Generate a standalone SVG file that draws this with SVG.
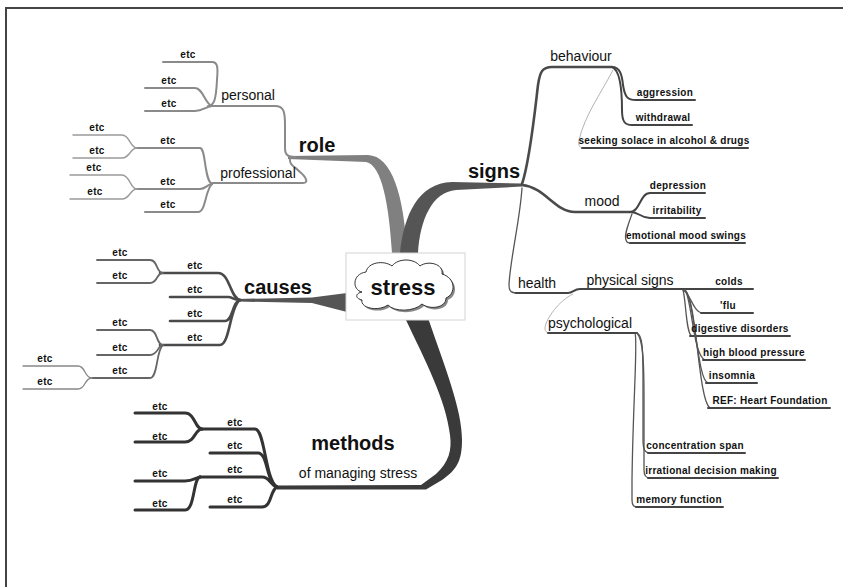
<svg xmlns="http://www.w3.org/2000/svg" width="843" height="587" viewBox="0 0 843 587">
<style>
text{font-family:"Liberation Sans",Arial,sans-serif;fill:#111;text-anchor:middle}
.s{font-size:10px;font-weight:bold;letter-spacing:0.3px}
.m{font-size:14px}
.b{font-size:20px;font-weight:bold}
.r{fill:none;stroke:#8a8a8a;stroke-width:2;stroke-linecap:round}
.rt{fill:none;stroke:#9a9a9a;stroke-width:1.4;stroke-linecap:round}
.d{fill:none;stroke:#4a4a4a;stroke-width:2.6;stroke-linecap:round}
.dt{fill:none;stroke:#666;stroke-width:1.8;stroke-linecap:round}
.dtt{fill:none;stroke:#888;stroke-width:1.3;stroke-linecap:round}
.k{fill:none;stroke:#333;stroke-width:3;stroke-linecap:round}
.g{fill:none;stroke:#444;stroke-width:2;stroke-linecap:round}
.th{fill:none;stroke:#555;stroke-width:1.3;stroke-linecap:round}
.lt{fill:none;stroke:#aaa;stroke-width:0.9}
</style>
<rect width="843" height="587" fill="#fff"/>
<path d="M6 587 L6 8 L843 8" fill="none" stroke="#444" stroke-width="2"/>

<g id="connectors">
  <!-- main branches -->
  <path id="br-role" d="M288 156 L368 155 C392 156 404 195 407 253 L392 253 C389 205 382 165 366 162 L288 159 Z" fill="#808080"/>
  <path id="br-signs" d="M400 253 C404 215 418 183 452 182 L522 183.5 L522 186.5 L456 190 C432 192 420 220 418 253 Z" fill="#555"/>
  <path id="br-causes" d="M237 299 L312 297.5 L347 293 L347 312 L312 303 L237 301.5 Z" fill="#555"/>
  <path id="br-methods" d="M405 318 L428 318 C446 370 462 410 462 440 C462 462 456 470 442 480 L426 489.5 L277 489.5 L277 485.5 L421 485 L436 474 C449 462 452 450 450 435 C446 400 425 360 405 318 Z" fill="#3a3a3a"/>

  <!-- role subtree -->
  <path class="r" d="M212 106 L275 106 C284 106 285 112 285 125 L285 148 C285 155 288 157 295 157"/>
  <path class="r" d="M212 183 L303 183 C309 183 306 177 300 172 C294 166 289 165 290 158"/>
  <path class="r" d="M163 62 L212 62 C218 62 218 68 217 80 C216 100 214 106 208 106"/>
  <path class="r" d="M145 88 L195 88 C203 88 205 104 212 106"/>
  <path class="r" d="M145 111 L195 111 C203 111 205 107 212 106"/>
  <path class="r" d="M135 148 L200 148 C206 148 204 180 212 184"/>
  <path class="rt" d="M73 135 L122 135 C130 135 130 148 137 148"/>
  <path class="rt" d="M73 158 L122 158 C130 158 130 148 137 148"/>
  <path class="r" d="M135 189 L200 189 C206 189 206 185 212 184"/>
  <path class="rt" d="M70 175 L122 175 C130 175 130 189 137 189"/>
  <path class="rt" d="M70 199 L122 199 C130 199 130 189 137 189"/>
  <path class="r" d="M145 212 L198 212 C206 212 205 190 212 184"/>

  <!-- causes subtree -->
  <path class="d" d="M160 273 L218 273 C230 273 230 298 240 300"/>
  <path class="dt" d="M97 260 L150 260 C158 260 156 273 163 273"/>
  <path class="dt" d="M97 283 L150 283 C158 283 156 273 163 273"/>
  <path class="d" d="M170 297 L228 297 C233 297 233 300 240 300"/>
  <path class="d" d="M170 321 L225 321 C233 321 232 302 240 300"/>
  <path class="d" d="M160 345 L220 345 C230 345 230 305 240 300"/>
  <path class="dt" d="M97 330 L150 330 C158 330 156 345 163 345"/>
  <path class="dt" d="M97 355 L150 355 C158 355 158 345 163 345"/>
  <path class="dt" d="M90 378 L150 378 C158 378 156 350 163 345"/>
  <path class="dtt" d="M23 366 L78 366 C86 366 84 378 92 378"/>
  <path class="dtt" d="M23 389 L78 389 C86 389 84 378 92 378"/>

  <!-- methods subtree -->
  <path class="k" d="M200 429 L255 429 C265 429 265 480 277 487"/>
  <path class="k" d="M135 413 L185 413 C195 413 195 429 202 429"/>
  <path class="k" d="M135 442 L185 442 C195 442 195 429 202 429"/>
  <path class="k" d="M210 453 L258 453 C268 453 266 482 277 487"/>
  <path class="k" d="M200 477 L262 477 C270 477 270 485 277 487"/>
  <path class="k" d="M135 481 L185 481 C193 481 195 478 200 477"/>
  <path class="k" d="M135 510 L185 510 C195 510 193 478 200 477"/>
  <path class="k" d="M210 507 L262 507 C272 507 270 490 277 487"/>

  <!-- signs subtree -->
  <path class="d" d="M522 184 C530 160 535 110 538 85 C540 72 542 67 552 67 L612 67"/>
  <path class="g" d="M612 67 C620 67 622 75 623 85 C625 98 628 100 636 100 L695 100"/>
  <path class="g" d="M612 67 C620 70 622 90 622 110 C622 122 625 125 632 125 L692 125"/>
  <path class="lt" d="M613 70 C600 95 585 115 579 140 C578 146 580 148 584 148"/>
  <path class="g" d="M582 148 L748 148"/>
  <path class="d" d="M522 185 C545 187 555 212 575 212 L630 212"/>
  <path class="g" d="M630 212 C640 212 640 193 650 193 L705 193"/>
  <path class="g" d="M630 212 C640 212 640 218 650 218 L705 218"/>
  <path class="th" d="M632 214 C628 225 624 235 626 240 C627 243 628 243 632 243"/>
  <path class="g" d="M630 243 L745 243"/>
  <path class="th" d="M522 188 C520 220 510 260 509 285 C509 292 512 293 518 293"/>
  <path class="g" d="M516 293 L568 293 C573 293 574 289 580 289 L753 289"/>
  <path class="th" d="M683 290 C690 292 693 313 703 313"/>
  <path class="g" d="M701 313 L753 313"/>
  <path class="th" d="M683 290 C686 300 686 335 692 336"/>
  <path class="g" d="M690 336 L790 336"/>
  <path class="th" d="M685 290 C692 300 693 355 705 360"/>
  <path class="g" d="M703 360 L805 360"/>
  <path class="th" d="M685 290 C695 300 697 380 708 383"/>
  <path class="g" d="M706 383 L757 383"/>
  <path class="th" d="M685 290 C697 300 698 400 710 408"/>
  <path class="g" d="M708 408 L830 408"/>
  <path class="lt" d="M573 294 C560 300 546 318 545 328 C545 332 547 333 552 333"/>
  <path class="g" d="M548 333 L637 333"/>
  <path class="th" d="M637 333 C642 335 643 345 643 380 L643 440 C643 450 645 453 650 453"/>
  <path class="g" d="M648 453 L745 453"/>
  <path class="th" d="M637 333 C643 340 644 360 644 400 L644 470 C644 476 646 478 650 478"/>
  <path class="g" d="M648 478 L778 478"/>
  <path class="th" d="M635 333 C638 340 633 400 632 480 L632 500 C632 506 634 507 638 507"/>
  <path class="g" d="M636 507 L723 507"/>
</g>

<g id="stress">
  <rect x="346" y="253" width="119" height="67" fill="#fff" stroke="#d4d4d4" stroke-width="1"/>
  <path transform="translate(2,2)" d="M362 292 C352 290 352 274 366 272 C368 262 384 260 392 266 C398 258 414 258 420 266 C428 260 444 264 442 274 C456 278 456 294 446 298 C446 308 430 310 422 304 C414 312 394 312 388 305 C378 312 360 308 362 300 C354 298 356 293 362 292 Z" fill="#888"/>
  <path d="M362 292 C352 290 352 274 366 272 C368 262 384 260 392 266 C398 258 414 258 420 266 C428 260 444 264 442 274 C456 278 456 294 446 298 C446 308 430 310 422 304 C414 312 394 312 388 305 C378 312 360 308 362 300 C354 298 356 293 362 292 Z" fill="#fff" stroke="#333" stroke-width="1"/>
  <text class="b" x="403" y="295" style="font-size:22px">stress</text>
</g>

<g id="role"><text class="b" x="317" y="152">role</text></g>
<g id="personal"><text class="m" x="248" y="100">personal</text></g>
<g id="professional"><text class="m" x="258" y="178">professional</text></g>
<g id="role-etc">
  <text class="s" x="188" y="58">etc</text>
  <text class="s" x="169" y="84">etc</text>
  <text class="s" x="169" y="107">etc</text>
  <text class="s" x="168" y="144">etc</text>
  <text class="s" x="97" y="131">etc</text>
  <text class="s" x="97" y="154">etc</text>
  <text class="s" x="168" y="185">etc</text>
  <text class="s" x="94" y="171">etc</text>
  <text class="s" x="95" y="195">etc</text>
  <text class="s" x="168" y="208">etc</text>
</g>

<g id="causes"><text class="b" x="278" y="294">causes</text></g>
<g id="causes-etc">
  <text class="s" x="195" y="269">etc</text>
  <text class="s" x="120" y="256">etc</text>
  <text class="s" x="120" y="279">etc</text>
  <text class="s" x="195" y="293">etc</text>
  <text class="s" x="195" y="317">etc</text>
  <text class="s" x="195" y="341">etc</text>
  <text class="s" x="120" y="326">etc</text>
  <text class="s" x="120" y="351">etc</text>
  <text class="s" x="120" y="374">etc</text>
  <text class="s" x="45" y="362">etc</text>
  <text class="s" x="45" y="385">etc</text>
</g>

<g id="methods">
  <text class="b" x="353" y="450">methods</text>
  <text class="m" x="358" y="478">of managing stress</text>
</g>
<g id="methods-etc">
  <text class="s" x="160" y="410">etc</text>
  <text class="s" x="160" y="440">etc</text>
  <text class="s" x="235" y="426">etc</text>
  <text class="s" x="235" y="449">etc</text>
  <text class="s" x="235" y="473">etc</text>
  <text class="s" x="160" y="477">etc</text>
  <text class="s" x="235" y="503">etc</text>
  <text class="s" x="160" y="507">etc</text>
</g>

<g id="signs"><text class="b" x="494" y="178">signs</text></g>
<g id="behaviour">
  <text class="m" x="581" y="61">behaviour</text>
  <text class="s" x="665" y="96">aggression</text>
  <text class="s" x="663" y="121">withdrawal</text>
  <text class="s" x="664" y="144">seeking solace in alcohol &amp; drugs</text>
</g>
<g id="mood">
  <text class="m" x="602" y="206">mood</text>
  <text class="s" x="678" y="189">depression</text>
  <text class="s" x="677" y="214">irritability</text>
  <text class="s" x="686" y="239">emotional mood swings</text>
</g>
<g id="health">
  <text class="m" x="537" y="288">health</text>
</g>
<g id="physical-signs">
  <text class="m" x="630" y="285">physical signs</text>
  <text class="s" x="729" y="285">colds</text>
  <text class="s" x="728" y="309">'flu</text>
  <text class="s" x="740" y="332">digestive disorders</text>
  <text class="s" x="754" y="356">high blood pressure</text>
  <text class="s" x="732" y="379">insomnia</text>
  <text class="s" x="770" y="404">REF: Heart Foundation</text>
</g>
<g id="psychological">
  <text class="m" x="590" y="328">psychological</text>
  <text class="s" x="695" y="449">concentration span</text>
  <text class="s" x="711" y="474">irrational decision making</text>
  <text class="s" x="679" y="503">memory function</text>
</g>
</svg>
